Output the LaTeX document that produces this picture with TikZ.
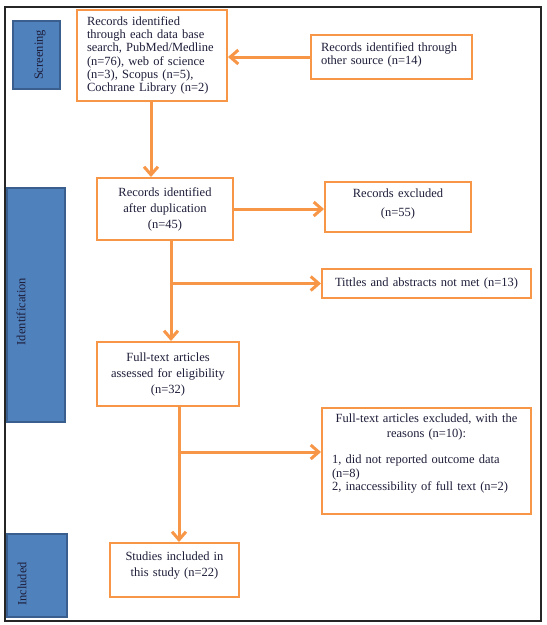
\documentclass[tikz,border=0pt]{standalone}
\usepackage{fontspec}
\setmainfont{Liberation Serif}
\usetikzlibrary{arrows.meta}
\definecolor{orng}{HTML}{F79646}
\definecolor{blu}{HTML}{4F81BD}
\definecolor{bluedge}{HTML}{3A5F8E}
\definecolor{txt}{HTML}{1E1E3A}
\begin{document}
\begin{tikzpicture}[x=1pt,y=-1pt,
  box/.style={draw=orng, line width=2pt, fill=white, inner xsep=10pt, inner ysep=0pt,
    text=txt, font=\fontsize{12.5}{13.3}\selectfont},
  phase/.style={draw=bluedge, fill=blu, line width=1.2pt, inner sep=0pt},
  plabel/.style={rotate=90, text=txt, inner sep=0pt, font=\fontsize{12.5}{14}\selectfont},
  arr/.style={draw=orng, line width=3pt, -{Straight Barb[length=8pt,width=14pt]}},
  ln/.style={draw=orng, line width=3pt}]
\useasboundingbox (0,0) rectangle (547,625);
\draw[line width=1.5pt, draw=black!85] (5,7) rectangle (541,621);

% phase bars
\node[phase, minimum width=47pt, minimum height=68pt] (scr) at (36.5,55) {};
\node[plabel] (scrl) at (40,55) {Screening};
\node[phase, minimum width=58pt, minimum height=234pt] (idn) at (36,305) {};
\node[plabel] (idnl) at (21,311.5) {Identification};
\node[phase, minimum width=60pt, minimum height=83pt] (inc) at (37,575.5) {};
\node[plabel] (incl) at (22,584) {Included};

% boxes
\node[box, text width=130pt, minimum height=91pt, align=left] (b1) at (152,55.5)
  {Records identified\\through each data base\\search, PubMed/Medline\\(n=76), web of science\\(n=3), Scopus (n=5),\\Cochrane Library (n=2)};
\node[box, text width=141pt, minimum height=44pt, align=left] (b2) at (391.5,57)
  {Records identified through\\other source (n=14)\\[-6pt]\mbox{}};
\node[box, text width=116pt, minimum height=62pt, align=center,
  font=\fontsize{12.5}{16}\selectfont] (b3) at (165,209)
  {Records identified\\after duplication\\(n=45)};
\node[box, text width=126pt, minimum height=50pt, align=center,
  font=\fontsize{12.5}{19}\selectfont] (b4) at (398,207)
  {Records excluded\\(n=55)\\[-10pt]\mbox{}};
\node[box, text width=189pt, minimum height=29pt, align=center] (tit) at (426.5,283.5)
  {Tittles and abstracts not met (n=13)};
\node[box, text width=122pt, minimum height=64pt, align=center,
  font=\fontsize{12.5}{16}\selectfont] (b5) at (168,374)
  {Full-text articles\\assessed for eligibility\\(n=32)};
\node[box, text width=189pt, minimum height=106pt, align=left,
  font=\fontsize{12.5}{15.5}\selectfont] (b6) at (426.5,461)
  {\makebox[\linewidth][c]{Full-text articles excluded, with the}\\
   \makebox[\linewidth][c]{reasons (n=10):}\\[10pt]
   1, did not reported outcome data\\[-1.5pt]
   (n=8)\\[-2pt]
   2, inaccessibility of full text (n=2)\\[2pt]\mbox{}};
\node[box, text width=109pt, minimum height=54pt, align=center,
  font=\fontsize{12.5}{15.7}\selectfont] (b7) at (174.5,570)
  {Studies included in\\this study (n=22)\\[-4pt]\mbox{}};

% junctions
\coordinate (k1) at (151,140);
\coordinate (j1) at (171,283.5);
\coordinate (j2) at (179,452);

% connectors
\draw[arr] (b2.west) -- (b2.west -| b1.east);
\draw[arr] (b1.south -| k1) -- (b3.north -| k1);
\draw[arr] (b3.east) -- (b3.east -| b4.west);
\draw[ln] (b3.south -| j1) -- (j1);
\draw[arr] (j1) -- (b5.north -| j1);
\draw[arr] (j1) -- (j1 -| tit.west);
\draw[ln] (b5.south -| j2) -- (j2);
\draw[arr] (j2) -- (b7.north -| j2);
\draw[arr] (j2) -- (j2 -| b6.west);
\end{tikzpicture}
\end{document}
